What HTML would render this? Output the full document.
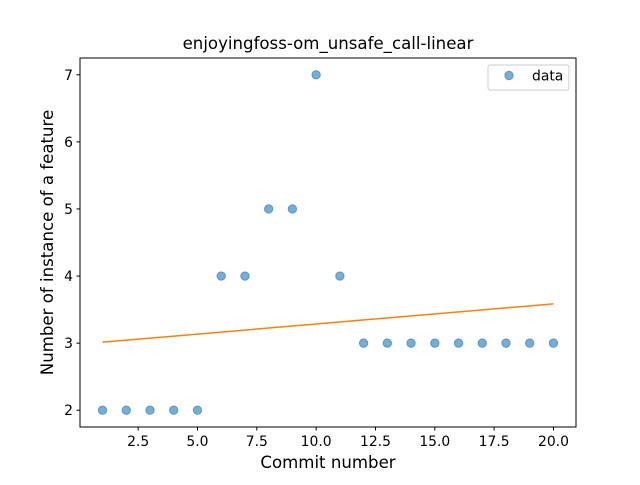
<!DOCTYPE html>
<html><head><meta charset="utf-8"><style>
body{margin:0;background:#fff}
svg text{font-family:"DejaVu Sans","Liberation Sans",sans-serif;fill:#000}
</style></head><body>
<svg width="640" height="480" xmlns="http://www.w3.org/2000/svg">
<rect width="640" height="480" fill="#fff"/>
<g id="grid"></g>
<text x="328" y="49" font-size="16.6" text-anchor="middle">enjoyingfoss-om_unsafe_call-linear</text>
<text x="328" y="468" font-size="16.6" text-anchor="middle">Commit number</text>
<text transform="translate(53,242.5) rotate(-90)" font-size="16.6" text-anchor="middle">Number of instance of a feature</text>
<g id="ticks"></g>
<g id="marks"></g>
<rect x="80" y="58" width="496" height="369" fill="none" stroke="#000" stroke-width="1"/>
<g>
<rect x="488" y="65" width="81" height="25" rx="2" fill="#fff" fill-opacity="0.8" stroke="#ccc"/>
<circle cx="509" cy="75.5" r="4.2" fill="#1f77b4" fill-opacity="0.6" stroke="#1f77b4" stroke-opacity="0.6"/>
<text x="532" y="80.5" font-size="13.9">data</text>
</g>
</svg>
<script>
const commits=[1,2,3,4,5,6,7,8,9,10,11,12,13,14,15,16,17,18,19,20];
const counts=[2,2,2,2,2,4,4,5,5,7,4,3,3,3,3,3,3,3,3,3];
const xTicks=[2.5,5.0,7.5,10.0,12.5,15.0,17.5,20.0];
const yTicks=[2,3,4,5,6,7];
const NS="http://www.w3.org/2000/svg";
const L=80,R=576,T=58,B=427;
const xmin=0.05,xmax=20.95,ymin=1.75,ymax=7.25;
const sx=v=>L+(v-xmin)/(xmax-xmin)*(R-L);
const sy=v=>B-(v-ymin)/(ymax-ymin)*(B-T);
function mk(tag,attrs,parent){const e=document.createElementNS(NS,tag);for(const k in attrs)e.setAttribute(k,attrs[k]);document.getElementById(parent).appendChild(e);return e;}
xTicks.forEach(v=>{
 const l=mk('line',{x1:sx(v),x2:sx(v),y1:B,y2:B+3.5,stroke:'#000'},'ticks');
 
 
 const t=mk('text',{x:sx(v),y:B+19,'font-size':13.9,'text-anchor':'middle'},'ticks');
 t.textContent=v.toFixed(1);
 
 
});
yTicks.forEach(v=>{
 const l=mk('line',{x1:L-3.5,x2:L,y1:sy(v),y2:sy(v),stroke:'#000'},'ticks');
 
 
 const t=mk('text',{x:L-7,y:sy(v)+5,'font-size':13.9,'text-anchor':'end'},'ticks');
 t.textContent=v;
 
 
});
commits.forEach((c,i)=>{
 const p=mk('circle',{cx:sx(c),cy:sy(counts[i]),r:4.2,fill:'#1f77b4','fill-opacity':0.6,stroke:'#1f77b4','stroke-opacity':0.6},'marks');
 
 
});
const n=commits.length,mx=commits.reduce((a,b)=>a+b,0)/n,my=counts.reduce((a,b)=>a+b,0)/n;
let sxy=0,sxx=0;commits.forEach((c,i)=>{sxy+=(c-mx)*(counts[i]-my);sxx+=(c-mx)*(c-mx);});
const slope=sxy/sxx,ic=my-slope*mx;
const x0=commits[0],x1=commits[n-1];
const fl=mk('line',{x1:sx(x0),y1:sy(ic+slope*x0),x2:sx(x1),y2:sy(ic+slope*x1),stroke:'#ff7f0e','stroke-width':1.5},'marks');


</script>
</body></html>
